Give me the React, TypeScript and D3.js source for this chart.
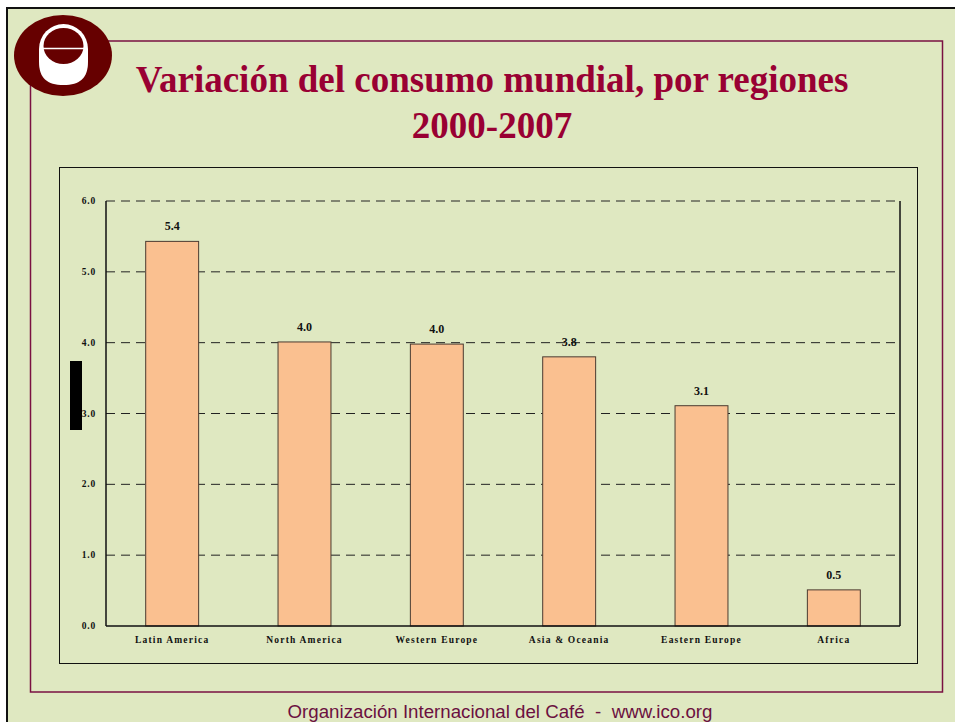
import React from "react";
import * as d3 from "d3";

const categories = ["Latin America", "North America", "Western Europe", "Asia & Oceania", "Eastern Europe", "Africa"];
const values = [5.43, 4.01, 3.98, 3.8, 3.11, 0.51];
const yTicks = [0, 1, 2, 3, 4, 5, 6];
const titleLines = ["Variación del consumo mundial, por regiones", "2000-2007"];
const footer = "Organización Internacional del Café  -  www.ico.org";

const W = 955, H = 722;
const plot = { left: 106, right: 900, top: 201, bottom: 626 };

export default function App() {
  const x = d3.scaleBand<string>().domain(categories).range([plot.left, plot.right]).paddingInner(0.6).paddingOuter(0.3);
  const y = d3.scaleLinear().domain([0, 6]).range([plot.bottom, plot.top]);
  const serif = "'Liberation Serif', 'Times New Roman', serif";
  const bg = "#DFE8C1";
  const maroon = "#7A1042";
  return (
    <svg width={W} height={H} style={{ position: "absolute", left: 0, top: 0, display: "block" }}>
      <rect x={0} y={0} width={W} height={H} fill="#ffffff" />
      <rect x={7} y={8} width={W - 7} height={H - 8} fill={bg} />
      <line x1={6} y1={8} x2={W} y2={8} stroke="#111" strokeWidth={2} />
      <line x1={7} y1={8} x2={7} y2={H} stroke="#111" strokeWidth={2} />
      {/* maroon frame */}
      <rect x={30.5} y={41} width={912} height={651} fill="none" stroke={maroon} strokeWidth={1.5} />
      {/* logo */}
      <g>
        <ellipse cx={63} cy={55.5} rx={49} ry={40.5} fill="#660000" />
        <path d="M39,49 A24.5,25 0 0 1 88,49 L88,62 C88,78 80,85 63.5,85 C47,85 39,78 39,62 Z" fill="#ffffff" />
        <ellipse cx={63.5} cy={46} rx={20} ry={18} fill="#660000" />
        <line x1={43} y1={48.5} x2={84} y2={48.5} stroke="#ffffff" strokeWidth={1.6} />
      </g>
      {/* title */}
      {titleLines.map((t, i) => (
        <text key={i} x={492} y={92 + i * 46} textAnchor="middle" fontFamily={serif} fontWeight="bold" fontSize={37} fill="#990033">{t}</text>
      ))}
      {/* chart box */}
      <rect x={59.5} y={167.5} width={858} height={496} fill="none" stroke="#111" strokeWidth={1} />
      {/* gridlines */}
      {yTicks.filter(t => t > 0).map(t => (
        <line key={t} x1={plot.left} x2={plot.right} y1={y(t)} y2={y(t)} stroke="#222" strokeWidth={1} strokeDasharray="9,6" />
      ))}
      {/* bars */}
      {categories.map((c, i) => (
        <g key={c}>
          <rect x={x(c)!} y={y(values[i])} width={x.bandwidth()} height={plot.bottom - y(values[i])} fill="#FAC090" stroke="#4a3a30" strokeWidth={1} />
          <text x={x(c)! + x.bandwidth() / 2} y={y(values[i]) - 11} textAnchor="middle" fontFamily={serif} fontWeight="bold" fontSize={12} fill="#111">{values[i].toFixed(1)}</text>
          <text x={x(c)! + x.bandwidth() / 2} y={643} textAnchor="middle" fontFamily={serif} fontWeight="bold" fontSize={9.5} letterSpacing={1.2} fill="#111">{c}</text>
        </g>
      ))}
      {/* axes */}
      <line x1={plot.left} x2={plot.left} y1={plot.top} y2={plot.bottom} stroke="#111" strokeWidth={1.5} />
      <line x1={plot.right} x2={plot.right} y1={plot.top} y2={plot.bottom} stroke="#111" strokeWidth={1.5} />
      <line x1={plot.left} x2={plot.right} y1={plot.bottom} y2={plot.bottom} stroke="#111" strokeWidth={1.5} />
      {yTicks.map(t => (
        <text key={t} x={96} y={y(t) + 3} textAnchor="end" fontFamily={serif} fontWeight="bold" fontSize={9.5} letterSpacing={0.8} fill="#111">{t.toFixed(1)}</text>
      ))}
      <rect x={70} y={361} width={12} height={69} fill="#000" />
      {/* footer */}
      <text x={500} y={718} textAnchor="middle" fontFamily="'Liberation Sans', Arial, sans-serif" fontSize={18.7} fill="#6B1040" style={{ whiteSpace: "pre" }}>{footer}</text>
    </svg>
  );
}
